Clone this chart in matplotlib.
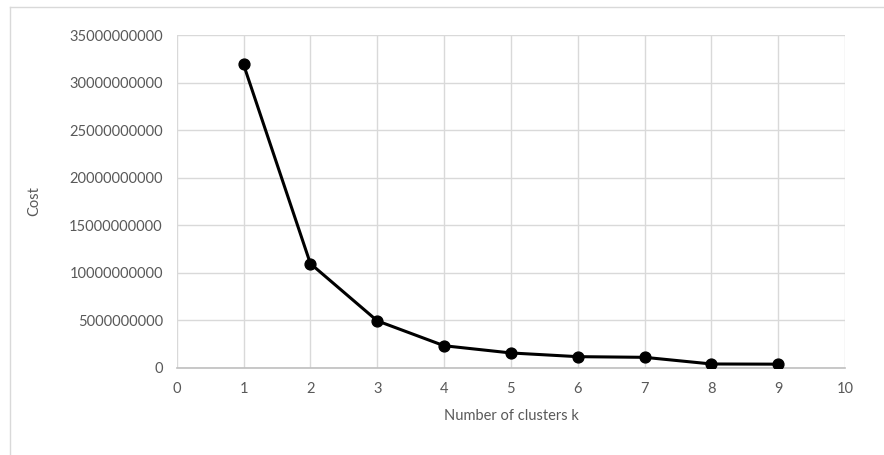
import matplotlib
matplotlib.use("Agg")
import matplotlib.pyplot as plt
from matplotlib.lines import Line2D

# elbow curve values
clusters = [1, 2, 3, 4, 5, 6, 7, 8, 9]
cost = [31.9e9, 10.95e9, 4.93e9, 2.31e9, 1.55e9, 1.16e9, 1.09e9, 0.39e9, 0.37e9]

x_ticks = list(range(0, 11))
y_ticks = [i * 5000000000 for i in range(8)]

plt.rcParams['font.family'] = ['Lato', 'DejaVu Sans']
text_gray = '#595959'
grid_gray = '#d9d9d9'

fig = plt.figure(figsize=(8.84, 4.55), dpi=100)
ax = fig.add_axes([0.1999, 0.1919, 0.956 - 0.1999, 0.923 - 0.1919])

ax.plot(clusters, cost, color='black', linewidth=2.2, marker='o',
        markersize=7.8, zorder=3)

ax.set_xlim(0, 10)
ax.set_ylim(0, 35000000000)
ax.set_xticks(x_ticks)
ax.set_yticks(y_ticks)
ax.set_yticklabels([str(v) for v in y_ticks])

ax.grid(True, color=grid_gray, linewidth=1.0)
ax.set_axisbelow(True)
for side in ['top', 'right', 'left']:
    ax.spines[side].set_visible(False)
ax.spines['bottom'].set_color('#bfbfbf')
ax.spines['bottom'].set_linewidth(1.2)

ax.tick_params(length=0, colors=text_gray, labelsize=10.5)
ax.tick_params(axis='y', pad=10)
ax.tick_params(axis='x', pad=10)

ax.set_xlabel('Number of clusters k', color=text_gray, fontsize=10.5, labelpad=10)
ax.set_ylabel('Cost', color=text_gray, fontsize=10.5)
ax.yaxis.set_label_coords(-0.203, 0.5)

# chart area border (only top and left are inside the crop)
fig.add_artist(Line2D([10 / 884, 1.01], [1 - 7 / 455, 1 - 7 / 455],
                      transform=fig.transFigure, color=grid_gray, linewidth=1.0))
fig.add_artist(Line2D([10 / 884, 10 / 884], [1 - 7 / 455, -0.01],
                      transform=fig.transFigure, color=grid_gray, linewidth=1.0))

fig.savefig('out.png', dpi=100)
